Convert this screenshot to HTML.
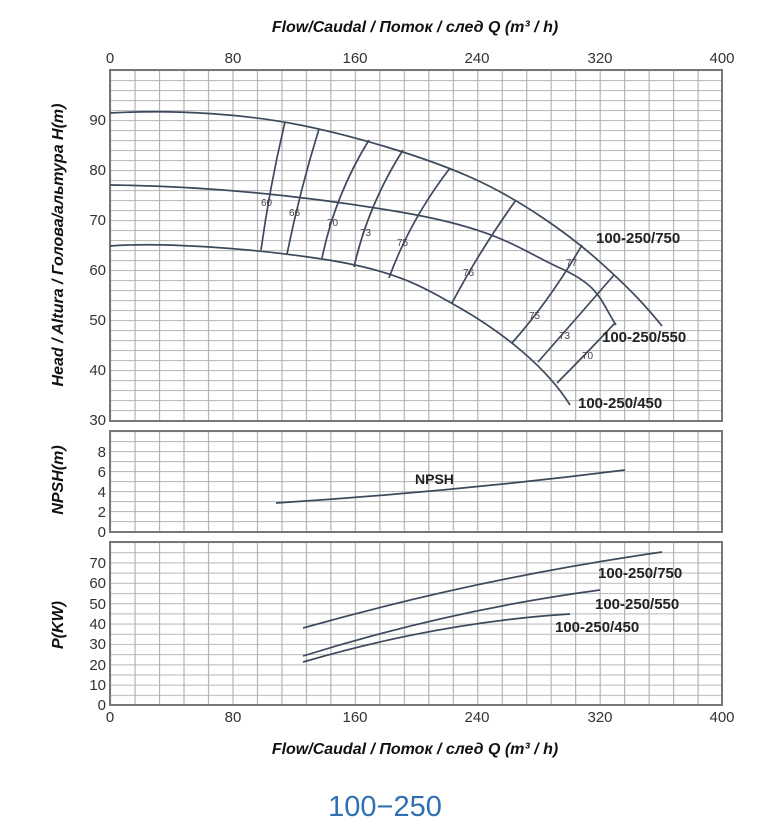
<!DOCTYPE html>
<html><head><meta charset="utf-8"><style>
body{margin:0;background:#fff}
svg{display:block}
text{font-family:"Liberation Sans",sans-serif}
</style></head><body>
<svg width="770" height="840" viewBox="0 0 770 840" xmlns="http://www.w3.org/2000/svg">
<defs>
<pattern id="gv" x="110" y="0" width="24.48" height="840" patternUnits="userSpaceOnUse"><line x1="0.5" y1="0" x2="0.5" y2="840" stroke="#b0b0b0" stroke-width="1.3"/></pattern>
<pattern id="gh" x="0" y="70" width="770" height="10" patternUnits="userSpaceOnUse"><line x1="0" y1="0.5" x2="770" y2="0.5" stroke="#bdbdbd" stroke-width="1.3"/></pattern>
<pattern id="gh2" x="0" y="542" width="770" height="10.19" patternUnits="userSpaceOnUse"><line x1="0" y1="0.5" x2="770" y2="0.5" stroke="#bdbdbd" stroke-width="1.3"/></pattern>
</defs>
<g font-weight="bold" font-style="italic" font-size="16" fill="#111">
<text x="415" y="32" text-anchor="middle">Flow/Caudal  /  Поток / след   Q (m³ / h)</text>
<text x="415" y="754" text-anchor="middle">Flow/Caudal  /  Поток / след   Q (m³ / h)</text>
</g>
<g font-size="15" fill="#333" text-anchor="middle">
<text x="110" y="63">0</text><text x="233" y="63">80</text><text x="355" y="63">160</text><text x="477" y="63">240</text><text x="600" y="63">320</text><text x="722" y="63">400</text>
<text x="110" y="722">0</text><text x="233" y="722">80</text><text x="355" y="722">160</text><text x="477" y="722">240</text><text x="600" y="722">320</text><text x="722" y="722">400</text>
</g>
<rect x="110" y="70" width="612" height="351" fill="url(#gh)"/>
<rect x="110" y="70" width="612" height="351" fill="url(#gv)"/>
<rect x="110" y="70" width="612" height="351" fill="none" stroke="#777" stroke-width="2"/>
<rect x="110" y="431" width="612" height="101" fill="url(#gh)" transform="translate(0,1)"/>
<rect x="110" y="431" width="612" height="101" fill="url(#gv)"/>
<rect x="110" y="431" width="612" height="101" fill="none" stroke="#777" stroke-width="2"/>
<rect x="110" y="542" width="612" height="163" fill="url(#gh2)"/>
<rect x="110" y="542" width="612" height="163" fill="url(#gv)"/>
<rect x="110" y="542" width="612" height="163" fill="none" stroke="#777" stroke-width="2"/>
<g font-size="15" fill="#333" text-anchor="end">
<text x="106" y="125">90</text><text x="106" y="175">80</text><text x="106" y="225">70</text><text x="106" y="275">60</text><text x="106" y="325">50</text><text x="106" y="375">40</text><text x="106" y="425">30</text>
<text x="106" y="457">8</text><text x="106" y="477">6</text><text x="106" y="497">4</text><text x="106" y="517">2</text><text x="106" y="537">0</text>
<text x="106" y="568">70</text><text x="106" y="588">60</text><text x="106" y="609">50</text><text x="106" y="629">40</text><text x="106" y="649">30</text><text x="106" y="670">20</text><text x="106" y="690">10</text><text x="106" y="710">0</text>
</g>
<g font-weight="bold" font-style="italic" font-size="16" fill="#111" text-anchor="middle">
<text transform="translate(63,245) rotate(-90)">Head / Altura  /  Голова/альтура H(m)</text>
<text transform="translate(63,480) rotate(-90)">NPSH(m)</text>
<text transform="translate(63,625) rotate(-90)">P(KW)</text>
</g>
<g fill="none" stroke="#3d4a5e" stroke-width="1.7" stroke-linejoin="round">
<path d="M110,113 C180,109 250,115 300,125 S420,155 470,177 S570,235 600,262 S645,305 662,326"/>
<path d="M110,185 C200,186 300,195 400,212 S520,250 560,268 S600,300 616,325"/>
<path d="M110,246 C160,242 250,248 322,259 S420,285 460,308 S545,365 570,405"/>
<path d="M285,122 Q270,185 261,250"/>
<path d="M319,129 Q300,190 287,254"/>
<path d="M369,140 Q335,195 322,258"/>
<path d="M403,150 Q368,205 354,267"/>
<path d="M450,168 Q410,220 389,278"/>
<path d="M516,200 Q480,250 452,303"/>
<path d="M582,245 Q550,300 512,343"/>
<path d="M614,275 Q575,320 538,362"/>
<path d="M615,323 Q585,355 557,383"/>
<path d="M276,503 Q450,492 625,470"/>
<path d="M303,628 Q480,578 662,552"/>
<path d="M303,656 Q450,610 600,590"/>
<path d="M303,662 Q440,622 570,614"/>
</g>
<g font-size="10" fill="#444">
<text x="261" y="206">60</text><text x="289" y="216">66</text><text x="327" y="226">70</text><text x="360" y="236">73</text><text x="397" y="246">75</text><text x="463" y="276">76</text><text x="566" y="266">77</text><text x="529" y="319">75</text><text x="559" y="339">73</text><text x="582" y="359">70</text>
</g>
<g font-weight="bold" font-size="15" fill="#222">
<text x="596" y="243">100-250/750</text>
<text x="602" y="342">100-250/550</text>
<text x="578" y="408">100-250/450</text>
<text x="415" y="484" font-size="14">NPSH</text>
<text x="598" y="578">100-250/750</text>
<text x="595" y="609">100-250/550</text>
<text x="555" y="632">100-250/450</text>
</g>
<text x="385" y="816" text-anchor="middle" font-size="29" fill="#2f6fb3" font-family="'DejaVu Sans Condensed','Liberation Sans Narrow',sans-serif">100−250</text>
</svg>
</body></html>
